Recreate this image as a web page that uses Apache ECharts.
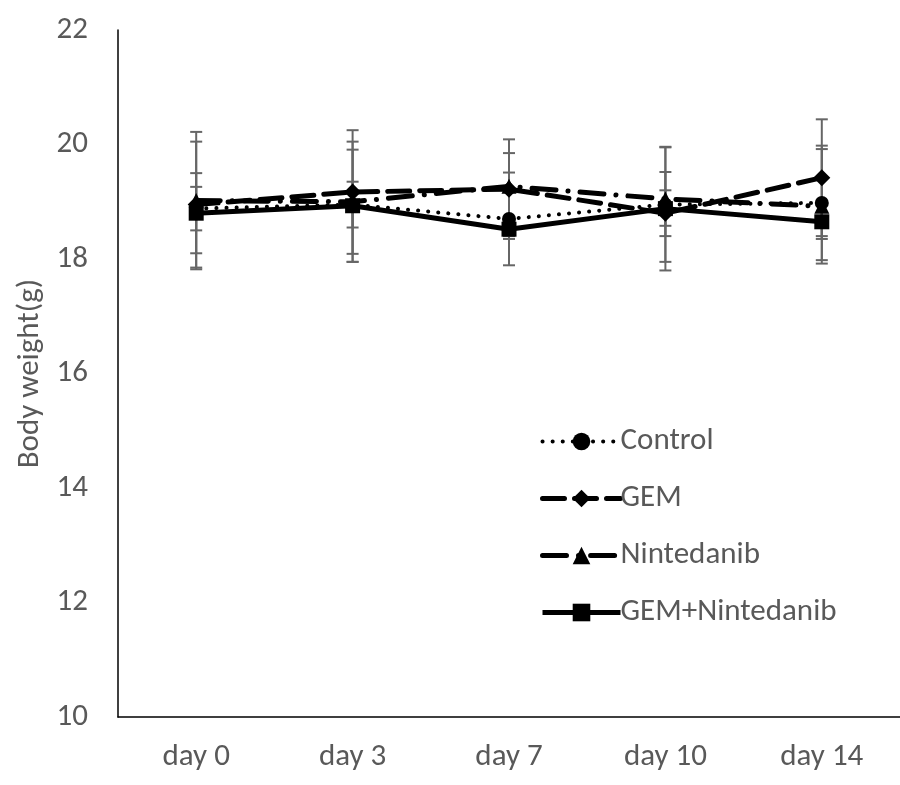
<!DOCTYPE html>
<html><head><meta charset="utf-8">
<script src="https://cdn.jsdelivr.net/npm/echarts@6/dist/echarts.min.js"></script>
<style>html,body{margin:0;padding:0;background:#fff}#c{width:900px;height:785px}</style>
</head><body><div id="c"></div>
<script>
const categories = ['day 0','day 3','day 7','day 10','day 14'];
const controlMean = [18.88, 18.95, 18.70, 18.95, 18.98];
const controlSd   = [0.38, 0.40, 0.81, 1.00, 1.00];
const gemMean = [18.95, 19.17, 19.22, 18.80, 19.42];
const gemSd   = [1.10, 1.08, 0.87, 0.40, 1.02];
const ninMean = [19.02, 19.00, 19.27, 19.05, 18.92];
const ninSd   = [1.20, 1.05, 0.58, 0.47, 1.00];
const comboMean = [18.80, 18.93, 18.52, 18.88, 18.65];
const comboSd   = [0.70, 0.98, 0.12, 1.08, 0.30];
const yTicks = [10, 12, 14, 16, 18, 20, 22];

const FONT = "Carlito, 'Liberation Sans Narrow', 'Open Sans', sans-serif";
const TXT = '#595959';

const styles = {
  'Control': { width: 4, type: [0.1, 10], cap: 'round' },
  'GEM': { width: 5, type: [22, 10], cap: 'round' },
  'Nintedanib': { width: 5, type: [24, 12, 0.1, 12], cap: 'round' },
  'GEM+Nintedanib': { width: 5, type: 'solid', cap: 'butt' }
};

function errSeries(mean, sd) {
  return {
    type: 'custom', z: 1, silent: true,
    data: mean.map((m, i) => [i, m - sd[i], m + sd[i]]),
    renderItem: function (params, api) {
      const lo = api.coord([api.value(0), api.value(1)]);
      const hi = api.coord([api.value(0), api.value(2)]);
      const hw = 6;
      const st = { stroke: '#666', lineWidth: 2 };
      return { type: 'group', children: [
        { type: 'line', shape: { x1: lo[0], y1: lo[1], x2: hi[0], y2: hi[1] }, style: st },
        { type: 'line', shape: { x1: lo[0]-hw, y1: lo[1], x2: lo[0]+hw, y2: lo[1] }, style: st },
        { type: 'line', shape: { x1: hi[0]-hw, y1: hi[1], x2: hi[0]+hw, y2: hi[1] }, style: st }
      ]};
    }
  };
}

const names = ['Control', 'GEM', 'Nintedanib', 'GEM+Nintedanib'];
const chart = echarts.init(document.getElementById('c'), null, { renderer: 'canvas' });
chart.setOption({
  animation: false,
  grid: { left: 118, top: 30, width: 787, height: 687 },
  xAxis: {
    type: 'category', data: categories, boundaryGap: true,
    axisLine: { lineStyle: { color: '#000', width: 1.5 } },
    axisTick: { show: false },
    axisLabel: { color: TXT, fontSize: 31, fontFamily: FONT, margin: 25 }
  },
  yAxis: {
    type: 'value', min: yTicks[0], max: yTicks[yTicks.length-1], interval: 2,
    name: 'Body weight(g)', nameLocation: 'middle', nameGap: 68,
    nameTextStyle: { color: TXT, fontSize: 31, fontFamily: FONT },
    axisLine: { show: true, lineStyle: { color: '#000', width: 1.5 } },
    axisTick: { show: false },
    splitLine: { show: false },
    axisLabel: { color: TXT, fontSize: 31, fontFamily: FONT, margin: 30 }
  },
  legend: {
    orient: 'vertical', left: 540, top: 426, padding: 0, itemWidth: 78, itemHeight: 22, itemGap: 26,
    textStyle: { color: TXT, fontSize: 31, fontFamily: FONT, padding: [0,0,0,-5] },
    data: names.map(n => ({ name: n, lineStyle: Object.assign({ color: '#000' }, styles[n]) }))
  },
  series: [
    errSeries(controlMean, controlSd),
    errSeries(gemMean, gemSd),
    errSeries(ninMean, ninSd),
    errSeries(comboMean, comboSd),
    { name: 'Control', type: 'line', z: 3, data: controlMean, symbol: 'circle', symbolSize: 14,
      itemStyle: { color: '#000' }, lineStyle: Object.assign({ color: '#000' }, styles['Control']) },
    { name: 'GEM', type: 'line', z: 3, data: gemMean, symbol: 'diamond', symbolSize: 17,
      itemStyle: { color: '#000' }, lineStyle: Object.assign({ color: '#000' }, styles['GEM']) },
    { name: 'Nintedanib', type: 'line', z: 3, data: ninMean, symbol: 'triangle', symbolSize: 15,
      itemStyle: { color: '#000' }, lineStyle: Object.assign({ color: '#000' }, styles['Nintedanib']) },
    { name: 'GEM+Nintedanib', type: 'line', z: 3, data: comboMean, symbol: 'rect', symbolSize: 15,
      itemStyle: { color: '#000' }, lineStyle: Object.assign({ color: '#000' }, styles['GEM+Nintedanib']) }
  ]
});
</script></body></html>
